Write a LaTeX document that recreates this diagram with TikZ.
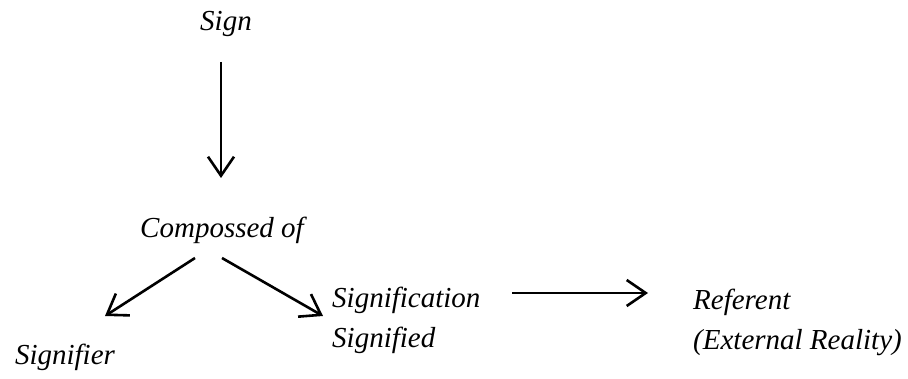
\documentclass[tikz,border=0pt]{standalone}
\usepackage{fontspec}
\setmainfont{Liberation Serif}
\usepackage{tikz}
\usetikzlibrary{arrows.meta, positioning}
\tikzset{
  word/.style={font=\fontsize{29}{40}\selectfont\itshape, inner sep=0pt, align=left},
  arrow/.style={-{Straight Barb[length=19pt, width=26pt]}, line width=2.6pt, color=black}
}
\begin{document}
\begin{tikzpicture}[x=1pt, y=-1pt]
  \useasboundingbox (0,0) rectangle (908,379);
  % top: the sign
  \node[word] (sign) at (226,24) {Sign};
  % middle
  \node[word] (comp) at (222,230) {Compossed of};
  % bottom row
  \node[word] (sfier) at (65,357) {Signifier};
  \node[word, anchor=west] (sfied) at (332,320) {Signification\\Signified};
  \node[word, anchor=west] (ref) at (693,322) {Referent\\(External Reality)};
  \draw[arrow] ([shift={(-5,38)}]sign.center) -- ([shift={(-1,-52)}]comp.center);
  \draw[arrow] ([shift={(-27,28)}]comp.center) -- ([shift={(40,-41)}]sfier.center);
  \draw[arrow] ([shift={(0,28)}]comp.center) -- ([shift={(-9,-4)}]sfied.west);
  \draw[arrow] ([shift={(180,-27)}]sfied.west) -- ([shift={(-45,-29)}]ref.west);
\end{tikzpicture}
\end{document}
